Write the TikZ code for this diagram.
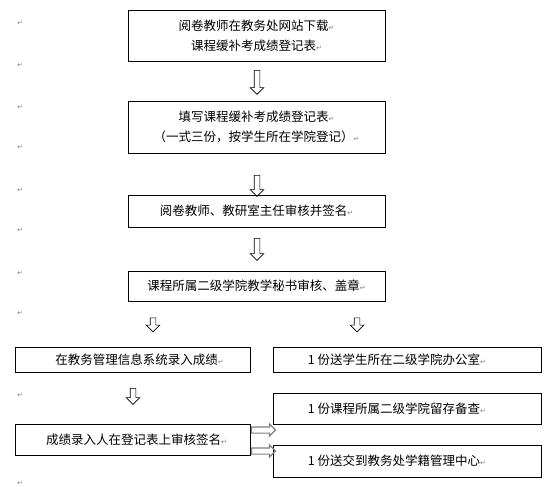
\documentclass[tikz,border=0pt]{standalone}
\usepackage{fontspec}
\setmainfont{Noto Sans CJK SC}
\newfontfamily\markfont{DejaVu Sans}
\usetikzlibrary{shapes.arrows}
\tikzset{>=latex}
\newcommand{\parmark}{{\markfont\fontsize{7}{7}\selectfont\textcolor{gray}{↵}}}

\begin{document}
\begin{tikzpicture}[x=1pt, y=-1pt,
  box/.style={draw, line width=0.8pt, align=center, inner sep=0pt,
    font=\fontsize{12.5}{20}\selectfont},
  darrow/.style={single arrow, draw, line width=0.6pt, rotate=-90, inner sep=2.5pt,
    single arrow head extend=4pt, minimum height=#1},
  rarrow/.style={single arrow, draw=gray, line width=1.2pt, inner sep=2.5pt,
    single arrow head extend=3pt, minimum height=#1}]
      \useasboundingbox (0,0) rectangle (560,487);
      \foreach \y in {23,65,107,147,190,230,273,313,395,483}
        \node (m\y) at (20,\y) {\parmark};
      \node[box, minimum width=257, minimum height=51] (b1) at (256.5,35.5)
        {阅卷教师在教务处网站下载\parmark\\课程缓补考成绩登记表\parmark};
      \node[box, minimum width=257, minimum height=52] (b2) at (256.5,127)
        {填写课程缓补考成绩登记表\parmark\\（一式三份，按学生所在学院登记）\parmark};
      \node[box, minimum width=257, minimum height=32] (b3) at (256.5,211)
        {阅卷教师、教研室主任审核并签名\parmark};
      \node[box, minimum width=257, minimum height=30] (b4) at (256.5,286)
        {课程所属二级学院教学秘书审核、盖章\parmark};
      \node[box, minimum width=235, minimum height=25] (b5) at (132.5,359.5)
        {\hspace{14pt}在教务管理信息系统录入成绩\parmark};
      \node[box, minimum width=268, minimum height=25] (b6) at (407,359.5)
        {1 份送学生所在二级学院办公室\parmark\hspace{20pt}};
      \node[box, minimum width=268, minimum height=31] (b7) at (407,408.5)
        {1 份课程所属二级学院留存备查\parmark\hspace{20pt}};
      \node[box, minimum width=235, minimum height=31] (b8) at (132.5,439.5)
        {\hspace{8pt}成绩录入人在登记表上审核签名\parmark};
      \node[box, minimum width=268, minimum height=32] (b9) at (407,461)
        {1 份送交到教务处学籍管理中心\parmark\hspace{20pt}};
      \node[darrow=24] (a1) at (257,81) {};
      \node[darrow=21] (a2) at (257,184.5) {};
      \node[darrow=22] (a3) at (257,248) {};
      \node[darrow=14] (a4) at (153,323.5) {};
      \node[darrow=14] (a5) at (357,323.5) {};
      \node[darrow=16] (a6) at (133,395) {};
      \node[rarrow=24] (h1) at (262,430) {};
      \node[rarrow=24] (h2) at (262,451) {};
\end{tikzpicture}
\end{document}
